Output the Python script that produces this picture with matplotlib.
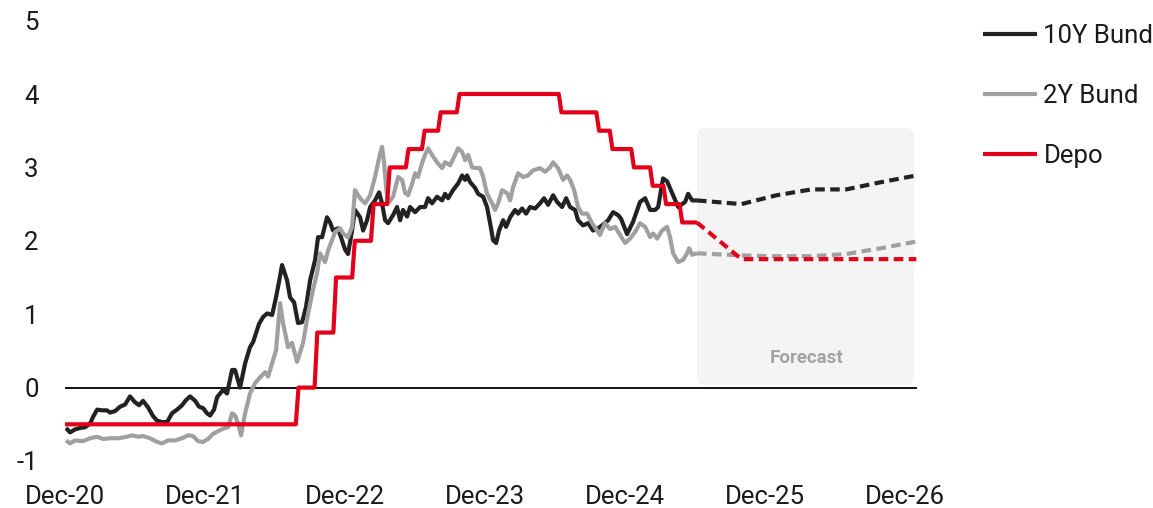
import numpy as np
import matplotlib
matplotlib.use("Agg")
import matplotlib.pyplot as plt
from matplotlib.patches import FancyBboxPatch

plt.rcParams['font.family'] = ['Roboto', 'DejaVu Sans']

# ---------------------------------------------------------------
# Data (x values are decimal years)
# ---------------------------------------------------------------
# 10Y Bund yield, %
t_10y = [2020.924, 2020.953, 2020.988, 2021.024, 2021.060, 2021.096, 2021.117, 2021.146,
         2021.181, 2021.217, 2021.238, 2021.274, 2021.310, 2021.346, 2021.381, 2021.417,
         2021.446, 2021.474, 2021.510, 2021.546, 2021.574, 2021.610, 2021.646, 2021.681,
         2021.717, 2021.753, 2021.781, 2021.810, 2021.846, 2021.874, 2021.903, 2021.931,
         2021.953, 2021.981, 2022.003, 2022.046, 2022.074, 2022.110, 2022.131, 2022.167,
         2022.203, 2022.238, 2022.260, 2022.288, 2022.303, 2022.331, 2022.360, 2022.396,
         2022.424, 2022.446, 2022.467, 2022.503, 2022.524, 2022.553, 2022.581, 2022.610,
         2022.638, 2022.667, 2022.703, 2022.724, 2022.753, 2022.788, 2022.810, 2022.831,
         2022.867, 2022.888, 2022.917, 2022.938, 2022.967, 2022.988, 2023.024, 2023.046,
         2023.074, 2023.096, 2023.131, 2023.160, 2023.181, 2023.203, 2023.224, 2023.260,
         2023.288, 2023.310, 2023.331, 2023.360, 2023.381, 2023.417, 2023.453, 2023.488,
         2023.510, 2023.538, 2023.574, 2023.610, 2023.631, 2023.653, 2023.688, 2023.724,
         2023.753, 2023.774, 2023.788, 2023.810, 2023.846, 2023.867, 2023.903, 2023.931,
         2023.953, 2023.974, 2023.996, 2024.017, 2024.046, 2024.067, 2024.096, 2024.131,
         2024.153, 2024.181, 2024.210, 2024.238, 2024.274, 2024.310, 2024.338, 2024.367,
         2024.403, 2024.431, 2024.467, 2024.496, 2024.524, 2024.560, 2024.581, 2024.617,
         2024.653, 2024.688, 2024.724, 2024.760, 2024.796, 2024.831, 2024.867, 2024.888,
         2024.931, 2024.974, 2025.024, 2025.060, 2025.096, 2025.131, 2025.153, 2025.188,
         2025.217, 2025.253, 2025.296, 2025.346, 2025.367, 2025.396, 2025.430]
v_10y = [-0.55, -0.61, -0.57, -0.55, -0.54, -0.49, -0.40, -0.30,
         -0.31, -0.31, -0.34, -0.32, -0.26, -0.23, -0.12, -0.20,
         -0.24, -0.18, -0.27, -0.39, -0.45, -0.47, -0.47, -0.35,
         -0.30, -0.24, -0.17, -0.12, -0.18, -0.26, -0.28, -0.35,
         -0.38, -0.30, -0.13, -0.03, -0.08, 0.24, 0.24, 0.00,
         0.33, 0.55, 0.62, 0.78, 0.87, 0.96, 1.01, 0.99,
         1.23, 1.45, 1.67, 1.46, 1.23, 1.16, 0.88, 0.89,
         1.10, 1.46, 1.74, 2.05, 2.05, 2.32, 2.25, 2.14,
         2.17, 2.05, 1.88, 1.82, 2.14, 2.42, 2.32, 2.14,
         2.28, 2.46, 2.55, 2.66, 2.51, 2.28, 2.24, 2.35,
         2.46, 2.28, 2.42, 2.33, 2.46, 2.39, 2.46, 2.46,
         2.58, 2.51, 2.60, 2.55, 2.64, 2.58, 2.69, 2.78,
         2.89, 2.83, 2.89, 2.80, 2.72, 2.64, 2.60, 2.46,
         2.24, 2.01, 1.97, 2.14, 2.28, 2.19, 2.32, 2.42,
         2.37, 2.44, 2.37, 2.46, 2.44, 2.51, 2.58, 2.49,
         2.62, 2.53, 2.46, 2.58, 2.46, 2.42, 2.28, 2.21,
         2.24, 2.14, 2.17, 2.22, 2.28, 2.39, 2.35, 2.30,
         2.09, 2.26, 2.53, 2.58, 2.42, 2.42, 2.46, 2.85,
         2.81, 2.65, 2.46, 2.53, 2.64, 2.55, 2.55]

# 2Y Bund yield, %
t_2y = [2020.924, 2020.953, 2020.988, 2021.046, 2021.096, 2021.146, 2021.188, 2021.238,
        2021.296, 2021.360, 2021.396, 2021.438, 2021.474, 2021.524, 2021.574, 2021.610,
        2021.653, 2021.703, 2021.753, 2021.796, 2021.831, 2021.867, 2021.903, 2021.938,
        2021.974, 2022.024, 2022.060, 2022.081, 2022.110, 2022.131, 2022.153, 2022.174,
        2022.203, 2022.238, 2022.274, 2022.310, 2022.346, 2022.367, 2022.396, 2022.424,
        2022.453, 2022.474, 2022.510, 2022.538, 2022.574, 2022.617, 2022.653, 2022.688,
        2022.717, 2022.738, 2022.774, 2022.796, 2022.824, 2022.846, 2022.881, 2022.903,
        2022.938, 2022.967, 2022.988, 2023.024, 2023.060, 2023.096, 2023.131, 2023.167,
        2023.181, 2023.196, 2023.210, 2023.224, 2023.260, 2023.296, 2023.324, 2023.346,
        2023.367, 2023.396, 2023.417, 2023.438, 2023.467, 2023.488, 2023.510, 2023.538,
        2023.574, 2023.610, 2023.631, 2023.667, 2023.703, 2023.724, 2023.753, 2023.774,
        2023.796, 2023.824, 2023.860, 2023.881, 2023.903, 2023.931, 2023.967, 2023.988,
        2024.010, 2024.038, 2024.074, 2024.096, 2024.117, 2024.153, 2024.188, 2024.224,
        2024.260, 2024.310, 2024.346, 2024.381, 2024.403, 2024.438, 2024.474, 2024.503,
        2024.524, 2024.553, 2024.581, 2024.610, 2024.646, 2024.681, 2024.717, 2024.738,
        2024.774, 2024.810, 2024.846, 2024.881, 2024.917, 2024.953, 2024.988, 2025.024,
        2025.060, 2025.096, 2025.117, 2025.146, 2025.181, 2025.217, 2025.238, 2025.260,
        2025.296, 2025.331, 2025.360, 2025.374, 2025.396, 2025.430]
v_2y = [-0.72, -0.76, -0.72, -0.73, -0.69, -0.67, -0.70, -0.69,
        -0.69, -0.67, -0.65, -0.67, -0.66, -0.69, -0.74, -0.76,
        -0.72, -0.72, -0.69, -0.65, -0.66, -0.73, -0.74, -0.70,
        -0.63, -0.58, -0.55, -0.54, -0.35, -0.38, -0.49, -0.65,
        -0.35, -0.08, 0.06, 0.14, 0.21, 0.15, 0.33, 0.51,
        1.15, 0.88, 0.55, 0.61, 0.35, 0.61, 1.01, 1.33,
        1.56, 1.83, 1.71, 1.87, 2.01, 2.12, 2.17, 2.10,
        2.05, 2.19, 2.69, 2.58, 2.51, 2.62, 2.87, 3.19,
        3.28, 3.06, 2.73, 2.51, 2.60, 2.87, 2.83, 2.65,
        2.62, 2.78, 2.92, 2.87, 3.06, 3.17, 3.26, 3.17,
        3.07, 2.99, 3.07, 3.03, 3.17, 3.26, 3.21, 3.10,
        3.17, 3.00, 2.99, 2.99, 2.87, 2.64, 2.51, 2.42,
        2.51, 2.69, 2.65, 2.55, 2.73, 2.92, 2.87, 2.89,
        2.96, 2.99, 2.94, 3.00, 3.07, 2.99, 2.83, 2.89,
        2.83, 2.69, 2.46, 2.37, 2.37, 2.24, 2.14, 2.08,
        2.24, 2.16, 2.19, 2.08, 1.97, 2.03, 2.12, 2.24,
        2.19, 2.05, 2.10, 2.03, 2.14, 2.19, 2.05, 1.83,
        1.71, 1.74, 1.83, 1.90, 1.81, 1.83]

# ECB deposit rate, %: dates the new level took effect
depo_dates = [2020.917, 2022.567, 2022.701, 2022.836, 2022.970, 2023.104, 2023.219,
              2023.353, 2023.468, 2023.584, 2023.718, 2024.445, 2024.713, 2024.809,
              2024.962, 2025.096, 2025.192, 2025.307, 2025.441]
depo_levels = [-0.50, 0.00, 0.75, 1.50, 2.00, 2.50, 3.00,
               3.25, 3.50, 3.75, 4.00, 3.75, 3.50, 3.25,
               3.00, 2.75, 2.50, 2.25, 2.00]
history_end = 2025.430

# Forecasts (quarter ends)
fc_dates = [2025.430, 2025.748, 2025.997, 2026.247, 2026.496, 2026.748, 2026.997]
fc_10y = [2.55, 2.50, 2.62, 2.70, 2.70, 2.80, 2.89]
fc_2y = [1.83, 1.80, 1.79, 1.79, 1.82, 1.90, 1.99]
fc_depo = [2.25, 1.75, 1.75, 1.75, 1.75, 1.75, 1.75]

x_tick_years = [2020, 2021, 2022, 2023, 2024, 2025, 2026]
x_tick_labels = ['Dec-20', 'Dec-21', 'Dec-22', 'Dec-23', 'Dec-24', 'Dec-25', 'Dec-26']
y_ticks = [-1, 0, 1, 2, 3, 4, 5]
y_tick_labels = ['-1', '0', '1', '2', '3', '4', '5']

# ---------------------------------------------------------------
# Styling
# ---------------------------------------------------------------
C_10Y = '#222222'
C_2Y = '#a0a0a0'
C_DEPO = '#e2001a'
C_TEXT = '#1a1a1a'
LW = 3.0
FS = 18.5

# Weekly deposit-rate path from the policy decisions
t_depo = np.append(np.arange(depo_dates[0], history_end, 7 / 365.25), history_end)
idx = np.searchsorted(depo_dates, t_depo, side='right') - 1
v_depo = np.asarray(depo_levels)[idx]

fig = plt.figure(figsize=(11.53, 5.08), dpi=100)
ax = fig.add_axes([65 / 1153, 47 / 508, 851.7 / 1153, 440.4 / 508])

x0 = x_tick_years[0] + 11 / 12
ax.set_xlim(x0, x0 + 6.083)
ax.set_ylim(-1, 5)

# Forecast panel
fc_left, fc_right = fc_dates[0], 2026.98
fc_bottom, fc_top = 0.03, 3.535
panel = FancyBboxPatch((fc_left, fc_bottom), fc_right - fc_left, fc_top - fc_bottom,
                       boxstyle='round,pad=0,rounding_size=0.057', mutation_aspect=1.9,
                       facecolor='#f4f4f4', edgecolor='none', zorder=0)
ax.add_patch(panel)
ax.text((fc_left + fc_right) / 2 + 0.01, 0.40, 'Forecast', ha='center', va='center',
        fontsize=13.5, fontweight='bold', color='#a3a3a3', zorder=1)

# Zero line
ax.axhline(0, color='#111111', lw=1.4, zorder=1)

common = dict(lw=LW, solid_joinstyle='round', solid_capstyle='butt')
ax.plot(t_10y, v_10y, color=C_10Y, label='10Y Bund', zorder=3, **common)
ax.plot(t_2y, v_2y, color=C_2Y, label='2Y Bund', zorder=3, **common)
ax.plot(t_depo, v_depo, color=C_DEPO, label='Depo', zorder=3, **common)

dash = dict(lw=LW, dashes=(2.3, 1.3), dash_capstyle='butt', zorder=3)
ax.plot(fc_dates, fc_10y, color=C_10Y, **dash)
ax.plot(fc_dates, fc_2y, color=C_2Y, **dash)
ax.plot(fc_dates, fc_depo, color=C_DEPO, **dash)

ax.set_xticks([y + 11 / 12 for y in x_tick_years])
ax.set_xticklabels(x_tick_labels)
ax.set_yticks(y_ticks)
ax.set_yticklabels(y_tick_labels)
ax.tick_params(axis='both', length=0, labelsize=FS, colors=C_TEXT)
ax.tick_params(axis='x', pad=17.5)
ax.tick_params(axis='y', pad=19)
for s in ax.spines.values():
    s.set_visible(False)

fig.legend(loc='upper left', bbox_to_anchor=(983 / 1153, 1 - 24 / 508),
           frameon=False, fontsize=FS, handlelength=2.1, handletextpad=0.25,
           labelspacing=1.41, borderpad=0, borderaxespad=0, labelcolor=C_TEXT)

fig.savefig('out.png', dpi=100)
